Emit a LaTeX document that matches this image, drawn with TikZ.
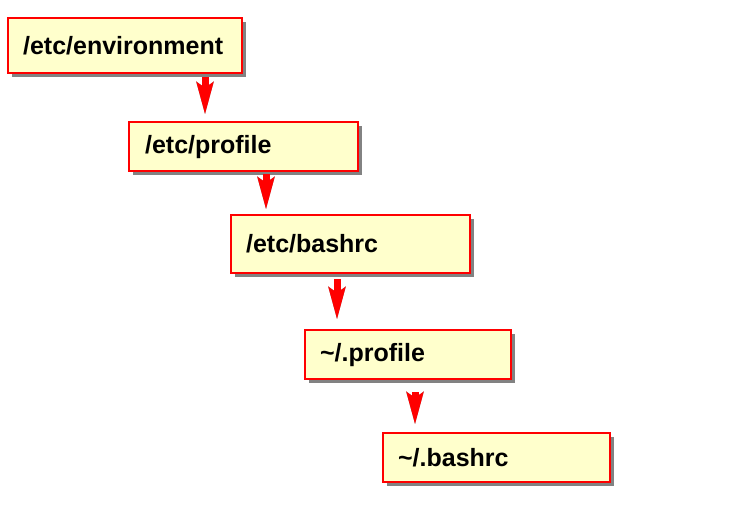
\documentclass[tikz,border=0pt]{standalone}
\usepackage{fontspec}
\setmainfont{Liberation Sans}
\usetikzlibrary{arrows.meta,shadows}
\definecolor{boxfill}{HTML}{FFFFCC}
\definecolor{boxred}{HTML}{FF0000}
\tikzset{
  filebox/.style={draw=boxred, line width=2.2pt, fill=boxfill, anchor=north west,
    inner xsep=15pt, inner ysep=0pt, align=left,
    font=\fontsize{25}{29}\selectfont\bfseries,
    drop shadow={shadow xshift=3.5pt, shadow yshift=-3.5pt, fill=black!65, opacity=0.75}},
  conn/.style={draw=boxred, line width=7pt,
    -{Stealth[length=32pt, width=16pt, inset=5pt]}},
  connshadow/.style={draw=black!45, line width=7pt,
    -{Stealth[length=32pt, width=16pt, inset=5pt]}}
}
\begin{document}
\begin{tikzpicture}[x=1pt,y=-1pt]
\useasboundingbox (0,0) rectangle (749,505);
\fill[white] (0,0) rectangle (749,505);
\node[filebox, minimum width=234pt, minimum height=55pt, text width=204pt] (a) at (7,17) {/etc/environment};
\node[filebox, minimum width=229pt, minimum height=49pt, text width=197pt] (b) at (128,121) {/etc/profile};
\node[filebox, minimum width=239pt, minimum height=58pt, text width=209pt] (c) at (230,214) {/etc/bashrc};
\node[filebox, minimum width=204pt, minimum height=49pt, text width=176pt] (d) at (304,329) {\char`\~/.profile};
\node[filebox, minimum width=227pt, minimum height=49pt, text width=197pt] (e) at (382,432) {\char`\~/.bashrc};
\coordinate (x1) at (205,0);
\coordinate (x2) at (266,0);
\coordinate (x3) at (337,0);
\coordinate (x4) at (415,0);
\begin{scope}[xshift=1.5pt, yshift=-1.5pt]
\draw[connshadow, shorten <=3pt, shorten >=6pt] (a.south -| x1) -- (b.north -| x1);
\draw[connshadow, shorten <=2pt, shorten >=4pt] (b.south -| x2) -- (c.north -| x2);
\draw[connshadow, shorten <=5pt, shorten >=9pt] (c.south -| x3) -- (d.north -| x3);
\draw[connshadow, shorten <=12pt, shorten >=7pt] (d.south -| x4) -- (e.north -| x4);
\end{scope}
\draw[conn, shorten <=3pt, shorten >=6pt] (a.south -| x1) -- (b.north -| x1);
\draw[conn, shorten <=2pt, shorten >=4pt] (b.south -| x2) -- (c.north -| x2);
\draw[conn, shorten <=5pt, shorten >=9pt] (c.south -| x3) -- (d.north -| x3);
\draw[conn, shorten <=12pt, shorten >=7pt] (d.south -| x4) -- (e.north -| x4);
\end{tikzpicture}
\end{document}
